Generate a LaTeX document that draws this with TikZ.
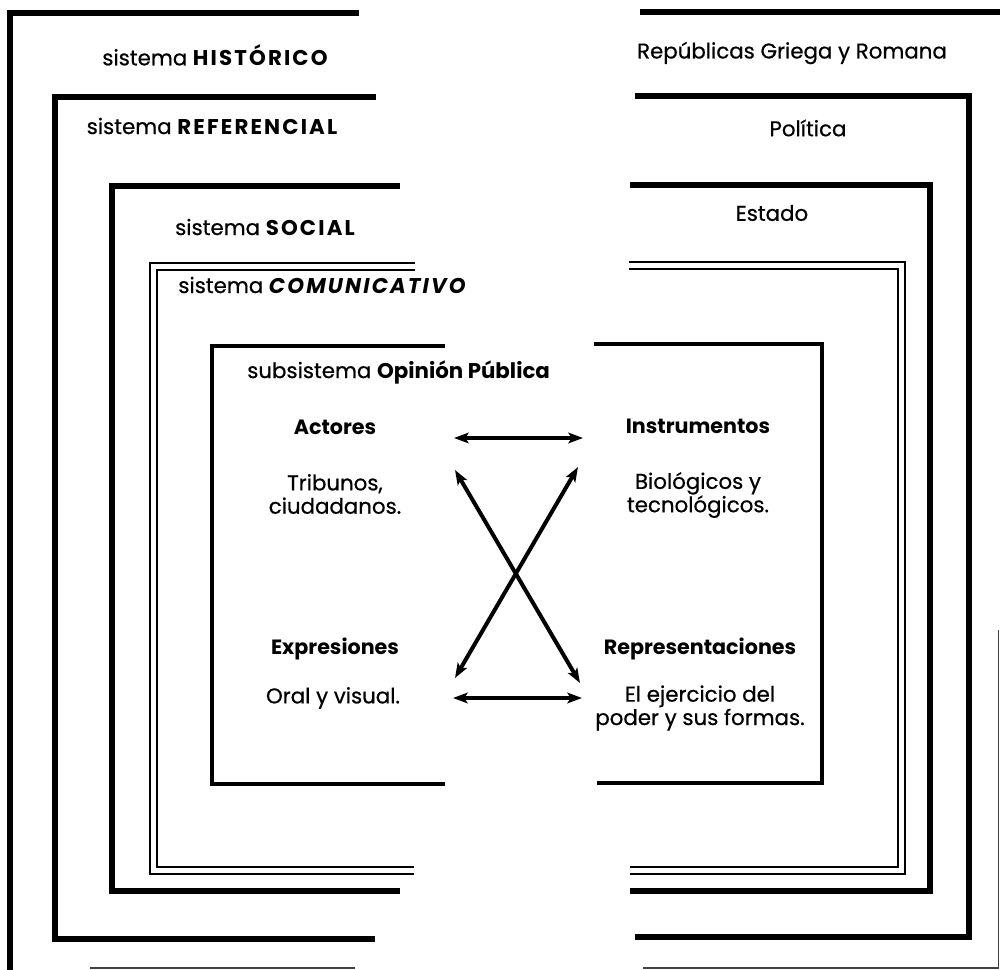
\documentclass[tikz,border=0pt]{standalone}
\usepackage{fontspec}
\setmainfont{Poppins}[UprightFeatures={FakeBold=0.6}, ItalicFeatures={FakeBold=0.6}]
\usetikzlibrary{arrows.meta}

% wide capitals for the system names
\newcommand{\capname}[1]{{\bfseries\addfontfeature{LetterSpace=10}#1}}

\tikzset{
  frame/.style={draw=black, line width=4.2pt, line join=miter, line cap=rect},
  thinframe/.style={draw=black!75, line width=1.2pt},
  dbl/.style={draw=black, line width=2.2pt, line join=miter, line cap=rect},
  inner/.style={draw=black, line width=3.2pt, line join=miter, line cap=rect},
  lbl/.style={inner sep=0pt, font=\fontsize{16}{17.5}\selectfont, align=center},
  head/.style={lbl, font=\fontsize{15.5}{17.5}\selectfont\bfseries},
  body/.style={lbl, font=\fontsize{16}{17.5}\selectfont},
  link/.style={draw=black, line width=3pt,
    {Stealth[length=11pt,width=8pt,inset=2.5pt]}-{Stealth[length=11pt,width=8pt,inset=2.5pt]}}
}

\begin{document}
\begin{tikzpicture}[x=0.75pt, y=-0.75pt]
\useasboundingbox (0,0) rectangle (1000,970);

% sistema HISTORICO
\draw[frame] (356,13) -- (10,13) -- (10,975);
\draw[thinframe] (90,968) -- (355,968);
\draw[frame] (643,12) -- (1005,12);
\draw[thinframe] (643,968) -- (998.5,968) -- (998.5,630);

% sistema REFERENCIAL
\draw[frame] (373,97) -- (55,97) -- (55,939) -- (372,939);
\draw[frame] (638,96) -- (969,96) -- (969,937) -- (638,937);

% sistema SOCIAL
\draw[frame] (397,186) -- (112,186) -- (112,891) -- (397,891);
\draw[frame] (633,185) -- (930,185) -- (930,891) -- (633,891);

% sistema COMUNICATIVO (double rule)
\draw[dbl] (414,263) -- (150,263) -- (150,874) -- (413,874);
\draw[dbl] (414,270) -- (157,270) -- (157,867) -- (413,867);
\draw[dbl] (630,262) -- (905,262) -- (905,874) -- (631,874);
\draw[dbl] (630,269) -- (898,269) -- (898,867) -- (631,867);

% subsistema Opinion Publica
\draw[inner] (443,346) -- (212,346) -- (212,784) -- (443,784);
\draw[inner] (596,344) -- (822,344) -- (822,783) -- (599,783);

% frame titles
\node[lbl] (hist) at (215,55) {sistema \capname{HISTÓRICO}};
\node[lbl] (refe) at (212,126) {sistema \capname{REFERENCIAL}};
\node[lbl] (soci) at (265,227) {sistema \capname{SOCIAL}};
\node[lbl] (comu) at (322,285) {sistema \capname{\itshape COMUNICATIVO}};
\node[lbl, anchor=west] (opin) at (247,372) {subsistema \textbf{Opinión Pública}};
\node[lbl] (repu) at (792,53) {Repúblicas Griega y Romana};
\node[lbl] (poli) at (808,128) {Política};
\node[lbl] (esta) at (772,213) {Estado};

% four components
\node[head] (act) at (335,427) {Actores};
\node[body] (actx) at (335,494) {Tribunos,\\ciudadanos.};
\node[head] (ins) at (698,426) {Instrumentos};
\node[body] (insx) at (698,495) {Biológicos y\\tecnológicos.};
\node[head] (exp) at (335,649) {Expresiones};
\node[body] (expx) at (333,698) {Oral y visual.};
\node[head] (rep) at (700,649) {Representaciones};
\node[body] (repx) at (700,708) {El ejercicio del\\poder y sus formas.};

% arrow ends
\coordinate (tl) at (454,438);
\coordinate (tr) at (583,438);
\coordinate (bl) at (453,698);
\coordinate (br) at (582,698);
\coordinate (dul) at (455,470);
\coordinate (ddr) at (580,683);
\coordinate (dur) at (578,467);
\coordinate (ddl) at (455,678);

\draw[link] (tl) -- (tr);
\draw[link] (bl) -- (br);
\draw[link] (dul) -- (ddr);
\draw[link] (dur) -- (ddl);
\end{tikzpicture}
\end{document}
